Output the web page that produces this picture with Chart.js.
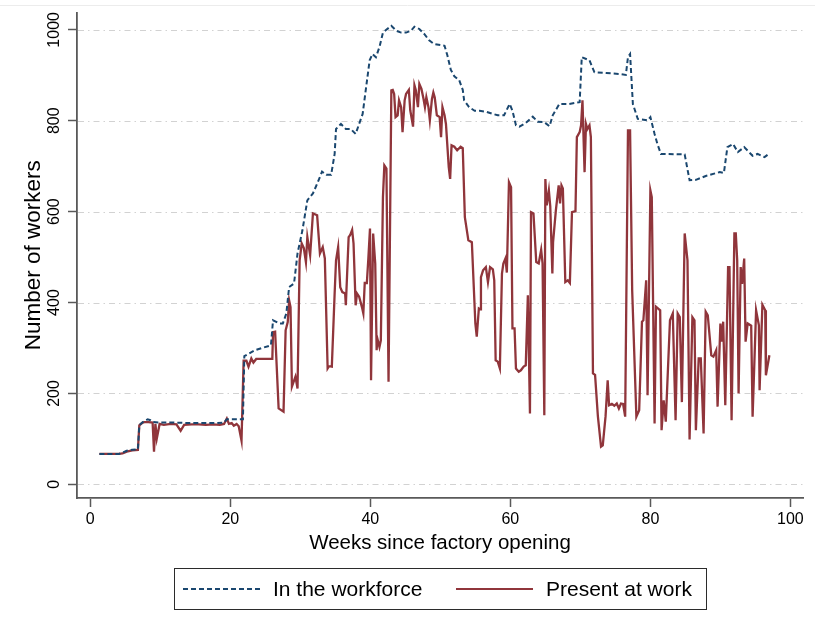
<!DOCTYPE html>
<html>
<head>
<meta charset="utf-8">
<script src="https://cdn.jsdelivr.net/npm/chart.js@4/dist/chart.umd.min.js"></script>
<style>
  html, body { margin: 0; padding: 0; background: #fff; }
  #wrap { width: 815px; height: 635px; position: relative; }
</style>
</head>
<body>
<div id="wrap"><canvas id="chart" width="815" height="635"></canvas></div>
<script>
// Weekly head counts after the factory opened
const presentWeeks = [1.3,2.5,4.1,4.6,5.2,6.0,6.8,7.0,7.4,7.7,8.3,8.9,9.1,9.3,9.5,9.9,10.5,11.5,12.3,12.9,13.4,14.5,15.5,16.5,17.5,18.5,19.1,19.5,19.8,20.2,20.5,20.9,21.2,21.6,21.9,22.3,22.6,23.0,23.3,23.7,24.5,25.5,26.0,26.1,26.4,26.9,27.6,27.9,28.2,28.4,28.6,28.8,29.3,29.6,29.9,30.2,30.5,30.8,31.0,31.4,31.8,32.4,32.8,33.2,33.5,33.9,34.1,34.5,34.9,35.1,35.4,35.7,36.0,36.4,36.5,36.9,37.1,37.4,37.6,37.9,38.1,38.4,38.8,39.0,39.2,39.5,39.7,39.95,40.1,40.4,40.7,40.9,41.0,41.3,41.5,41.8,42.0,42.3,42.6,43.0,43.2,43.4,43.6,43.9,44.1,44.4,44.6,44.9,45.1,45.5,45.7,45.95,46.1,46.3,46.5,46.8,47.0,47.3,47.6,47.8,48.0,48.3,48.5,48.8,49.0,49.2,49.5,49.9,50.1,50.3,50.6,50.8,51.2,51.4,51.6,52.0,52.4,52.9,53.2,53.5,54.0,54.5,55.0,55.2,55.5,55.7,55.8,56.1,56.5,56.8,57.1,57.5,57.7,57.9,58.2,58.5,58.8,59.0,59.3,59.5,59.8,60.1,60.3,60.6,60.8,61.2,61.5,61.9,62.2,62.5,62.8,62.95,63.3,63.7,64.05,64.4,64.6,64.85,65.0,65.2,65.5,65.7,66.0,66.1,66.5,66.9,67.1,67.3,67.5,67.85,68.2,68.5,68.8,69.3,69.5,69.9,70.1,70.3,70.6,70.8,71.0,71.3,71.5,71.8,72.1,72.5,72.95,73.2,73.6,73.9,74.1,74.5,74.85,75.2,75.5,75.8,76.1,76.4,76.8,77.1,77.4,78.0,78.4,78.8,79.0,79.4,79.6,80.0,80.2,80.6,80.8,81.4,81.6,81.9,82.2,82.8,83.2,83.6,83.9,84.2,84.5,84.9,85.3,85.6,86.0,86.3,86.5,86.9,87.2,87.6,87.9,88.2,88.7,89.0,89.4,89.6,90.0,90.2,90.4,90.7,91.1,91.3,91.6,92.0,92.2,92.4,92.6,92.9,93.1,93.4,93.6,93.9,94.4,94.6,95.1,95.5,95.6,96.0,96.4,96.5,97.0];
const presentCounts = [67,67,67,68,72,75,76,130,135,137,137,136,72,133,101,133,131,133,132,118,131,132,132,131,132,131,133,145,133,135,129,133,128,96,272,272,259,277,268,276,276,276,276,335,336,167,160,339,357,405,390,215,237,211,493,530,520,489,544,504,596,592,508,522,497,255,260,259,420,493,522,434,423,420,394,544,548,560,530,394,420,413,390,376,443,443,493,563,229,552,486,295,321,302,317,632,702,695,226,867,868,859,808,812,845,830,775,845,859,868,823,801,787,878,867,830,881,870,848,830,852,830,801,848,862,851,812,808,764,830,812,793,698,672,746,743,735,743,740,588,537,533,354,325,387,385,456,471,478,445,478,473,449,273,270,255,464,486,497,466,665,654,343,343,255,248,251,259,262,416,156,599,596,489,486,516,486,152,672,614,647,612,464,533,603,658,618,658,651,445,449,443,599,601,764,775,790,845,687,793,782,790,764,244,241,150,83,86,150,229,174,177,173,178,167,178,177,149,779,779,427,149,163,358,361,449,196,647,632,134,391,383,119,185,138,361,376,141,376,368,181,552,493,99,368,361,119,277,277,112,380,372,284,281,295,171,354,314,358,174,478,478,141,552,552,493,200,478,441,497,314,354,349,149,383,350,207,395,383,240,284];

const workforceWeeks = [1.3,4.1,4.6,5.2,6.0,6.8,7.0,7.5,8.2,8.6,9.0,10,12,14,16,18,19.1,19.5,20.5,21.4,21.8,22.0,23.5,25.8,26.1,27.0,27.5,28.0,28.4,29.1,29.6,30.3,31.0,31.8,32.5,33.1,33.7,34.4,34.9,35.1,35.8,36.5,37.2,37.9,38.4,38.9,39.4,39.9,40.3,40.8,41.3,41.8,42.1,43.0,43.7,44.4,45.1,45.8,46.3,47.0,47.7,48.4,49.1,50.6,51.0,51.5,52.0,52.7,53.2,53.4,54.1,54.9,55.6,56.5,57.5,58.2,59.1,59.9,60.3,60.8,61.3,62.2,63.2,63.9,64.85,65.6,66.05,67.0,68.4,69.9,70.2,71.3,72.0,73.7,75.6,76.5,76.8,77.1,77.5,78.2,79.6,80.0,80.6,81.0,81.5,84.9,85.6,86.5,88.0,89.9,90.5,91.0,91.8,92.5,93.4,94.6,95.3,96.3,96.9];
const workforceCounts = [67,67,70,74,76,77,130,137,143,141,137,136,136,135,135,135,136,143,143,143,143,282,295,306,361,354,354,376,434,442,508,559,625,640,665,688,681,681,727,782,793,782,782,771,793,815,874,933,947,940,962,994,998,1009,998,994,994,998,1007,1002,991,977,969,965,944,912,898,889,868,845,830,822,822,820,815,812,812,837,822,790,787,795,809,798,797,788,812,837,837,841,940,933,907,905,903,901,940,947,837,804,801,808,771,749,727,726,669,670,679,687,685,742,749,731,742,723,727,720,727];

const xTickValues = [0, 20, 40, 60, 80, 100];
const yTickValues = [0, 200, 400, 600, 800, 1000];

const seriesLabels = ['In the workforce', 'Present at work'];
const NAVY = '#1a476f';
const MAROON = '#90353b';
const AXIS = '#595959';
const FONT = "'Liberation Sans', Arial, Helvetica, sans-serif";

const toPoints = (xs, ys) => xs.map((x, i) => ({ x, y: ys[i] }));

// Dash-dot gridlines, rotated y labels, boxed legend
const stataDecor = {
  id: 'stataDecor',
  beforeDatasetsDraw(chart) {
    const { ctx, chartArea: a, scales: { y } } = chart;
    ctx.save();
    ctx.strokeStyle = '#d2d2d2';
    ctx.lineWidth = 1;
    ctx.setLineDash([6, 4, 1.5, 4]);
    yTickValues.forEach(v => {
      const py = Math.round(y.getPixelForValue(v)) + 0.5;
      ctx.beginPath();
      ctx.moveTo(a.left + 1, py);
      ctx.lineTo(a.right, py);
      ctx.stroke();
    });
    ctx.restore();
  },
  afterDraw(chart) {
    const { ctx, scales: { y } } = chart;
    ctx.save();
    // faint hairline along the top edge
    ctx.strokeStyle = '#ececec';
    ctx.lineWidth = 1;
    ctx.beginPath();
    ctx.moveTo(0, 5.5);
    ctx.lineTo(815, 5.5);
    ctx.stroke();

    // y tick labels, read bottom-to-top
    ctx.fillStyle = '#000';
    ctx.font = '16px ' + FONT;
    ctx.textAlign = 'center';
    ctx.textBaseline = 'middle';
    yTickValues.forEach(v => {
      const py = y.getPixelForValue(v);
      ctx.save();
      ctx.translate(55, py);
      ctx.rotate(-Math.PI / 2);
      ctx.fillText(String(v), 0, 0);
      ctx.restore();
    });

    // legend box
    const box = { left: 174.5, top: 568.5, right: 706.5, bottom: 609.5 };
    ctx.strokeStyle = '#2b2b2b';
    ctx.lineWidth = 1;
    ctx.setLineDash([]);
    ctx.strokeRect(box.left, box.top, box.right - box.left, box.bottom - box.top);
    const midY = (box.top + box.bottom) / 2;
    const items = [
      { ds: chart.data.datasets[0], x0: 183, x1: 260, tx: 273 },
      { ds: chart.data.datasets[1], x0: 456, x1: 533, tx: 546 }
    ];
    items.forEach(it => {
      ctx.save();
      ctx.strokeStyle = it.ds.borderColor;
      ctx.lineWidth = 2;
      ctx.setLineDash(it.ds.borderDash || []);
      ctx.beginPath();
      ctx.moveTo(it.x0, midY);
      ctx.lineTo(it.x1, midY);
      ctx.stroke();
      ctx.restore();
      ctx.fillStyle = '#000';
      ctx.font = '21px ' + FONT;
      ctx.textAlign = 'left';
      ctx.textBaseline = 'middle';
      ctx.fillText(it.ds.label, it.tx, midY + 1);
    });
    ctx.restore();
  }
};

new Chart(document.getElementById('chart'), {
  type: 'line',
  data: {
    datasets: [
      {
        label: seriesLabels[0],
        data: toPoints(workforceWeeks, workforceCounts),
        borderColor: NAVY,
        borderWidth: 2,
        borderDash: [5, 3],
        pointRadius: 0,
        tension: 0,
        fill: false
      },
      {
        label: seriesLabels[1],
        data: toPoints(presentWeeks, presentCounts),
        borderColor: MAROON,
        borderWidth: 2.3,
        pointRadius: 0,
        tension: 0,
        fill: false
      }
    ]
  },
  options: {
    responsive: false,
    animation: false,
    layout: { padding: { left: 0, top: 12, right: 12, bottom: 79.7 } },
    plugins: { legend: { display: false }, tooltip: { enabled: false } },
    scales: {
      x: {
        type: 'linear',
        min: -1.9,
        max: 101.8,
        afterBuildTicks: s => { s.ticks = xTickValues.map(v => ({ value: v })); },
        afterFit: s => { s.height = 57.3; },
        grid: { drawOnChartArea: false, drawTicks: true, tickLength: 9, tickColor: AXIS, tickWidth: 1.5 },
        border: { display: true, color: AXIS, width: 1.8 },
        ticks: { color: '#000', font: { family: FONT, size: 16 }, padding: 3, maxRotation: 0 },
        title: { display: true, text: 'Weeks since factory opening', color: '#000',
                 font: { family: FONT, size: 20.5 }, padding: { top: 0, bottom: 0 } }
      },
      y: {
        type: 'linear',
        min: -30,
        max: 1038,
        afterBuildTicks: s => { s.ticks = yTickValues.map(v => ({ value: v })); },
        afterFit: s => { s.width = 77; },
        grid: { drawOnChartArea: false, drawTicks: true, tickLength: 9, tickColor: AXIS, tickWidth: 1.5 },
        border: { display: true, color: AXIS, width: 1.8 },
        ticks: { color: 'rgba(0,0,0,0)', font: { family: FONT, size: 16 } },
        title: { display: true, text: 'Number of workers', color: '#000',
                 font: { family: FONT, size: 22.5 }, padding: { top: 20.5, bottom: 0 } }
      }
    }
  },
  plugins: [stataDecor]
});
</script>
</body>
</html>
